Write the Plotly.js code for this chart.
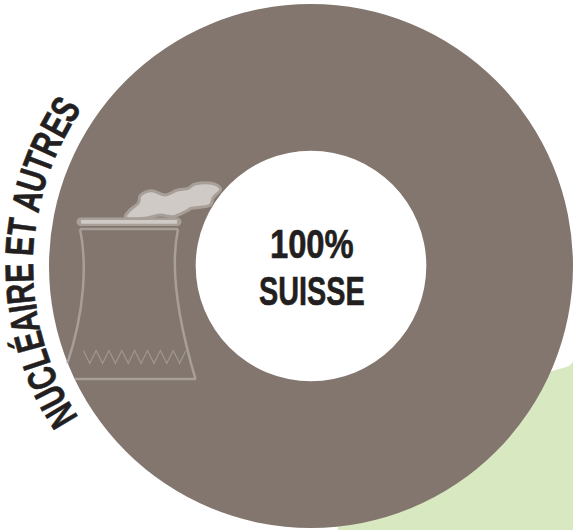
<!DOCTYPE html>
<html><head><meta charset="utf-8">
<script src="https://cdn.plot.ly/plotly-3.0.1.min.js"></script>
<style>
html,body{margin:0;padding:0;background:#fff;overflow:hidden;width:573px;height:530px}
#chart{margin-left:-60px;width:633px;height:530px}
.annotation-text{transform-box:fill-box;transform-origin:center;transform:scaleX(var(--sx,.72));stroke:#231f20;stroke-width:var(--sw,.6px)}
</style>
</head><body><div id="chart"></div>
<script>
const sliceLabels = ["Nucléaire et autres"];
const sliceValues = [100];
const sliceColors = ["#82766e"];
const arcLabel = "NUCLÉAIRE ET AUTRES";
const centerLines = ["100%", "SUISSE"];

const PAD = 60, W = 573, H = 530;
const FONT = '"Liberation Sans",Arial,sans-serif';
const cx = 311, cy = 266;
const fx = x => (x + PAD) / (W + PAD), fy = y => 1 - y / H;
const P = p => fx(p[0]) + ',' + fy(p[1]);
const poly = (pts, close) => 'M' + pts.map(P).join(' L') + (close ? ' Z' : '');
function spline(pts) {
  const n = pts.length, at = i => pts[(i + n) % n];
  let d = 'M' + P(pts[0]);
  for (let i = 0; i < n; i++) {
    const p0 = at(i - 1), p1 = at(i), p2 = at(i + 1), p3 = at(i + 2);
    const c1 = [p1[0] + (p2[0] - p0[0]) / 6, p1[1] + (p2[1] - p0[1]) / 6];
    const c2 = [p2[0] - (p3[0] - p1[0]) / 6, p2[1] - (p3[1] - p1[1]) / 6];
    d += ' C' + P(c1) + ' ' + P(c2) + ' ' + P(p2);
  }
  return d + ' Z';
}
const curve = (a, b, c, d) => 'M' + P(a) + ' C' + P(b) + ' ' + P(c) + ' ' + P(d);

const TOWER = '#a89f99', LIGHT = '#cfcac6';
const zigzag = [];
for (let i = 0; i <= 16; i++) zigzag.push([83.3 + 6.42 * i, i % 2 ? 363.3 : 350.5]);
const smoke = [[126,217.7],[130,210],[138.3,203],[140.7,195],[151.7,190.7],[165,195],[176.7,190.3],[188.3,188.3],[195,184],[211.7,183.3],[220.7,189],[213.3,197.7],[209.3,205.7],[191.7,208.3],[186.7,211],[173.3,216.7],[160,215],[145,218.3]];
const capPath = 'M' + P([81,217.5]) + ' L' + P([177,217.5]) + ' C' + P([183,217.5]) + ' ' + P([183,226]) + ' ' + P([177,226]) +
  ' L' + P([81,226]) + ' C' + P([75,226]) + ' ' + P([75,217.5]) + ' ' + P([81,217.5]) + ' Z';

const line = (path, color, width) => ({type:'path', xref:'paper', yref:'paper', layer:'above', path, line:{color, width}});
const shapes = [
  {type:'path', xref:'paper', yref:'paper', layer:'below', fillcolor:'#d8e8c0', line:{width:0},
   path: poly([[338,530],[338,500],[540,373],[552,371],[563,368],[569,366],[573,362],[573,530]], true)},
  line(curve([80,229],[87,262],[85,310],[67.5,363]), TOWER, 2.5),
  line(curve([178,229],[171,262],[175,310],[195.5,379]), TOWER, 2.5),
  line(poly([[80,229],[178,229]]), TOWER, 2.5),
  line(poly([[75,379],[196,379]]), TOWER, 2.5),
  line(poly(zigzag), '#a0978f', 1.2),
  {type:'path', xref:'paper', yref:'paper', layer:'above', path:spline(smoke), fillcolor:LIGHT, line:{color:TOWER, width:3}},
  {type:'path', xref:'paper', yref:'paper', layer:'above', fillcolor:TOWER, line:{width:0}, path:capPath},
  {type:'rect', xref:'paper', yref:'paper', layer:'above', x0:fx(81), x1:fx(177), y0:fy(223.7), y1:fy(220), fillcolor:LIGHT, line:{width:0}}
];

const ann = [
  {text:centerLines[0], x:fx(312), y:fy(243)},
  {text:centerLines[1], x:fx(312), y:fy(290)}
].map(a => ({text:a.text, x:a.x, y:a.y, xref:'paper', yref:'paper', xanchor:'center', yanchor:'middle', showarrow:false, borderpad:0,
  font:{family:FONT, size:40, color:'#231f20', weight:700}}));

const ctx = document.createElement('canvas').getContext('2d');
const arcSize = 40;
ctx.font = 'bold ' + arcSize + 'px ' + FONT;
const chars = Array.from(arcLabel), widths = chars.map(c => ctx.measureText(c).width);
const total = widths.reduce((a, b) => a + b, 0);
const startA = 147, endA = 214.5, textR = 292;
let run = 0;
chars.forEach((c, i) => {
  const a = startA + (endA - startA) * (run + widths[i] / 2) / total;
  run += widths[i];
  if (c === ' ') return;
  const rad = a * Math.PI / 180;
  ann.push({text:c, x:fx(cx + textR * Math.cos(rad)), y:fy(cy + textR * Math.sin(rad)), xref:'paper', yref:'paper',
    xanchor:'center', yanchor:'middle', showarrow:false, borderpad:0, textangle:a - 270,
    font:{family:FONT, size:arcSize, color:'#231f20', weight:700}});
});

Plotly.newPlot('chart', [{
  type:'pie', labels:sliceLabels, values:sliceValues, hole:0.44, sort:false, textinfo:'none', hoverinfo:'none',
  marker:{colors:sliceColors, line:{width:0}},
  domain:{x:[fx(49), 1], y:[fy(528), fy(4)]}
}], {
  width:W + PAD, height:H, margin:{l:0, r:0, t:0, b:0}, showlegend:false,
  paper_bgcolor:'#ffffff', plot_bgcolor:'#ffffff', shapes, annotations:ann
}, {displayModeBar:false, staticPlot:true}).then(() => {
  document.querySelectorAll('.annotation-text').forEach(t => {
    if (t.textContent === centerLines[0]) t.style.setProperty('--sx', '.82');
  });
});
</script></body></html>
